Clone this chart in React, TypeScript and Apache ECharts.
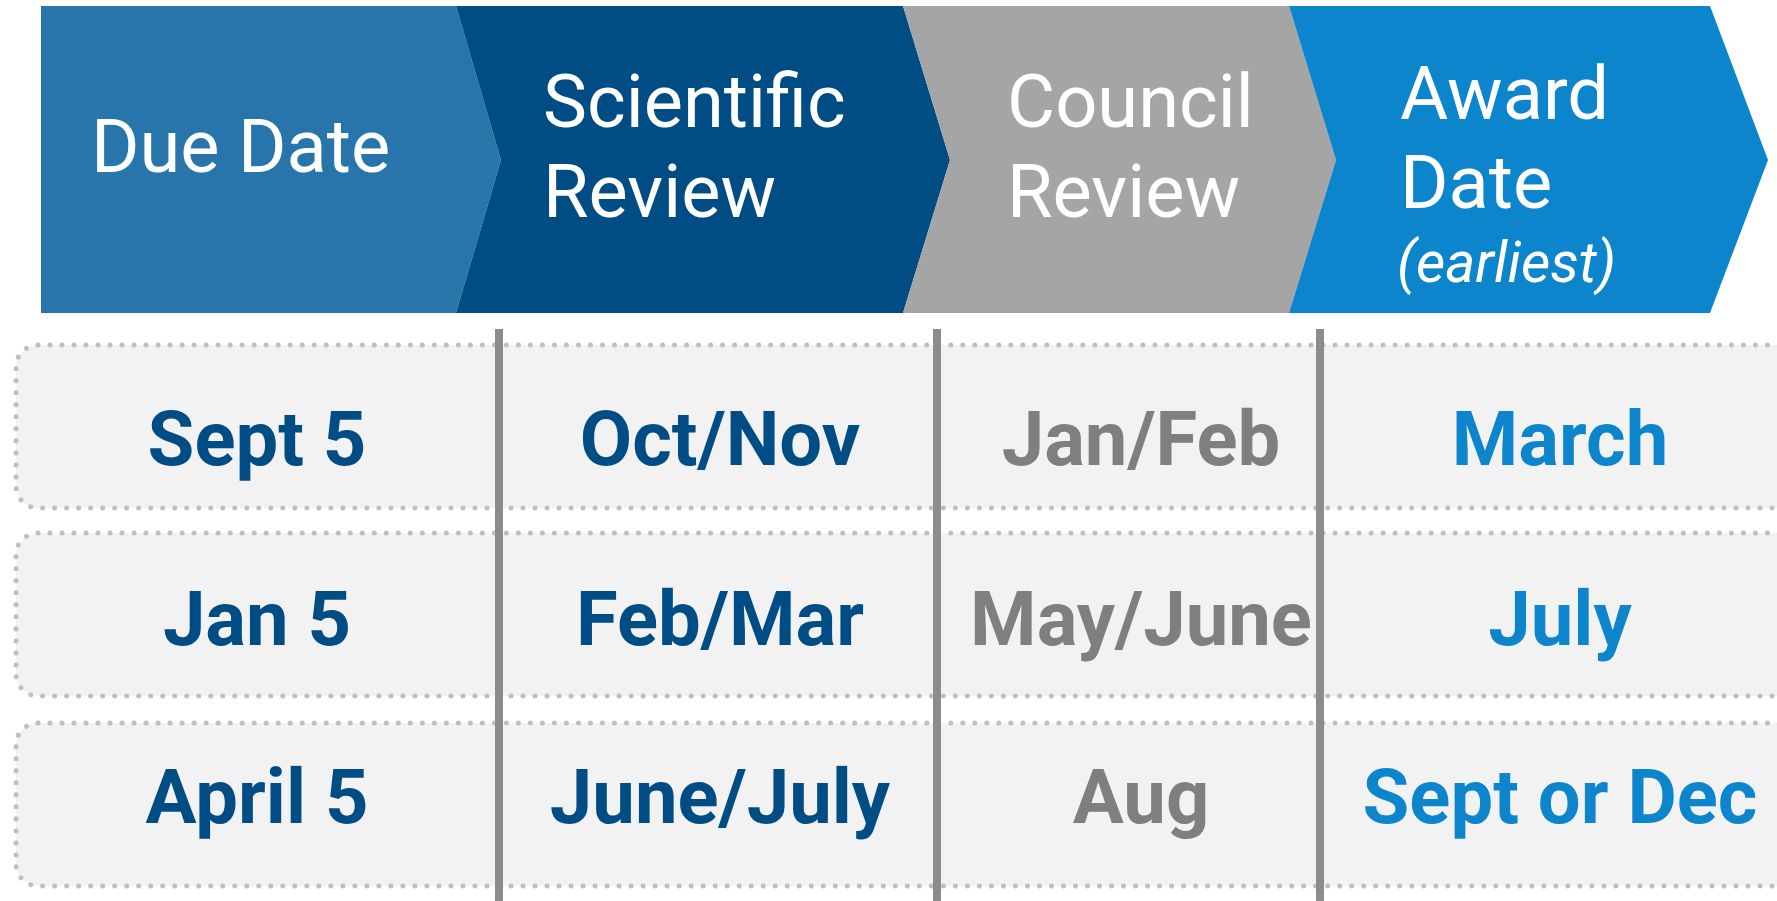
import React, { useEffect, useRef } from "react";
import * as echarts from "echarts";

// ---- content ----
const stageTitles = [["Due Date"], ["Scientific", "Review"], ["Council", "Review"], ["Award", "Date"]];
const stageNotes = ["", "", "", "(earliest)"];
const stageColors = ["#2775AB", "#004C85", "#A5A5A5", "#0D85CD"];
const dueDates = ["Sept 5", "Jan 5", "April 5"];
const scientificReview = ["Oct/Nov", "Feb/Mar", "June/July"];
const councilReview = ["Jan/Feb", "May/June", "Aug"];
const awardDates = ["March", "July", "Sept or Dec"];
const columnTextColors = ["#004C85", "#004C85", "#7F7F7F", "#0D85CD"];

// ---- layout (pixels) ----
const W = 1777;
const H = 901;
const HEAD_TOP = 6;
const HEAD_BOT = 313;
const HEAD_MID = 160;
const HEAD_LEFT = 41;
const chevBase = [456, 903, 1289, 1710];
const chevTip = [501, 950, 1336, 1768];
const headTextX = [91, 543, 1007, 1400];
const headLineY = [[146], [101, 191], [101, 191], [93, 182]];
const noteY = 262;
const noteX = 1397;
const rowTop = [345, 533, 723];
const ROW_H = 163;
const ROW_LEFT = 16;
const ROW_RIGHT = 1800;
const rowTextY = [439, 619, 797];
const colCenter = [257, 720, 1141, 1560];
const dividerX = [499, 937, 1320];
const DIVIDER_TOP = 329;
const FONT = "Roboto, 'Noto Sans', sans-serif";

export default function App() {
  const ref = useRef<HTMLDivElement>(null);
  useEffect(() => {
    if (!ref.current) return;
    const chart = echarts.init(ref.current, undefined, { renderer: "svg", width: W, height: H });
    const columns = [dueDates, scientificReview, councilReview, awardDates];

    const headerItem = (params: any, api: any) => {
      const i = api.value(0);
      const c = (x: number, y: number) => api.coord([x, y]);
      const leftX = i === 0 ? HEAD_LEFT : chevBase[i - 1];
      const pts =
        i === 0
          ? [c(leftX, HEAD_TOP), c(chevBase[i], HEAD_TOP), c(chevTip[i], HEAD_MID), c(chevBase[i], HEAD_BOT), c(leftX, HEAD_BOT)]
          : [
              c(leftX, HEAD_TOP),
              c(chevBase[i], HEAD_TOP),
              c(chevTip[i], HEAD_MID),
              c(chevBase[i], HEAD_BOT),
              c(leftX, HEAD_BOT),
              c(chevTip[i - 1], HEAD_MID),
            ];
      const children: any[] = [
        { type: "polygon", shape: { points: pts }, style: { fill: stageColors[i] } },
      ];
      stageTitles[i].forEach((line, k) => {
        const p = c(headTextX[i], headLineY[i][k]);
        children.push({
          type: "text",
          style: {
            text: line,
            x: p[0],
            y: p[1],
            fill: "#FFFFFF",
            fontSize: 74,
            fontFamily: FONT,
            fontWeight: "normal",
            align: "left",
            verticalAlign: "middle",
          },
        });
      });
      if (stageNotes[i]) {
        const p = c(noteX, noteY);
        children.push({
          type: "text",
          style: {
            text: stageNotes[i],
            x: p[0],
            y: p[1],
            fill: "#FFFFFF",
            fontSize: 57,
            fontStyle: "italic",
            fontFamily: FONT,
            align: "left",
            verticalAlign: "middle",
          },
        });
      }
      return { type: "group", children };
    };

    const rowItem = (params: any, api: any) => {
      const r = api.value(0);
      const tl = api.coord([ROW_LEFT, rowTop[r]]);
      const br = api.coord([ROW_RIGHT, rowTop[r] + ROW_H]);
      const children: any[] = [
        {
          type: "rect",
          shape: { x: tl[0], y: tl[1], width: br[0] - tl[0], height: br[1] - tl[1], r: 22 },
          style: {
            fill: "#F2F2F2",
            stroke: "#BFBFBF",
            lineWidth: 5,
            lineDash: [0.01, 12],
            lineCap: "round",
          },
        },
      ];
      columns.forEach((col, j) => {
        const p = api.coord([colCenter[j], rowTextY[r]]);
        children.push({
          type: "text",
          style: {
            text: col[r],
            x: p[0],
            y: p[1],
            fill: columnTextColors[j],
            fontSize: 76,
            fontWeight: "bold",
            fontFamily: FONT,
            align: "center",
            verticalAlign: "middle",
          },
        });
      });
      return { type: "group", children };
    };

    const dividerItem = (params: any, api: any) => {
      const j = api.value(0);
      const a = api.coord([dividerX[j], DIVIDER_TOP]);
      const b = api.coord([dividerX[j], H]);
      return {
        type: "line",
        shape: { x1: a[0], y1: a[1], x2: b[0], y2: b[1] },
        style: { stroke: "#8C8C8C", lineWidth: 8 },
      };
    };

    chart.setOption({
      animation: false,
      backgroundColor: "#FFFFFF",
      grid: { left: 0, top: 0, right: 0, bottom: 0 },
      xAxis: { type: "value", min: 0, max: W, show: false },
      yAxis: { type: "value", min: 0, max: H, inverse: true, show: false },
      series: [
        {
          type: "custom",
          name: "stages",
          silent: true,
          clip: false,
          z: 1,
          data: stageTitles.map((_, i) => [i]),
          renderItem: headerItem,
        },
        {
          type: "custom",
          name: "rows",
          silent: true,
          clip: false,
          z: 2,
          data: dueDates.map((_, i) => [i]),
          renderItem: rowItem,
        },
        {
          type: "custom",
          name: "dividers",
          silent: true,
          clip: false,
          z: 3,
          data: dividerX.map((_, i) => [i]),
          renderItem: dividerItem,
        },
      ],
    });
    return () => chart.dispose();
  }, []);
  return (
    <div
      ref={ref}
      style={{ position: "absolute", left: 0, top: 0, width: W, height: H, overflow: "hidden" }}
    />
  );
}
